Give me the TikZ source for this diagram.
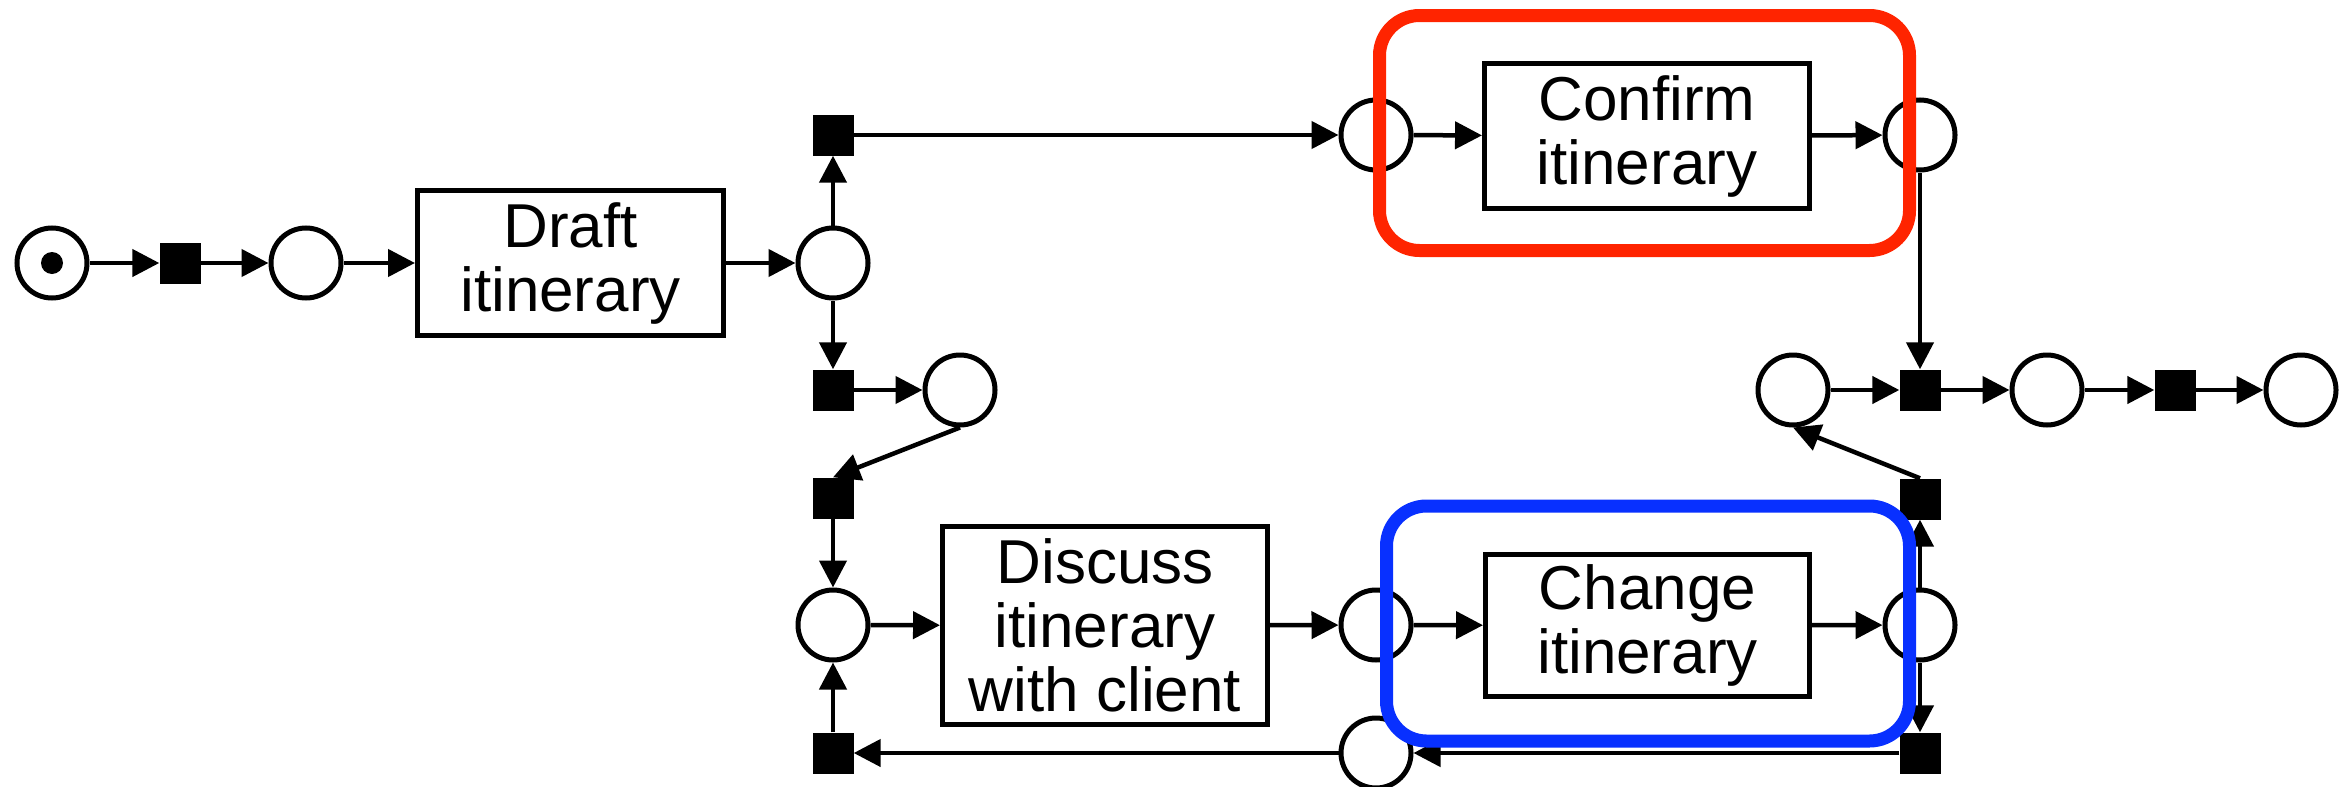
\documentclass[tikz,border=0pt]{standalone}
\usepackage{fontspec}
\setmainfont{Liberation Sans}
\usetikzlibrary{arrows.meta}
\definecolor{hlred}{RGB}{255,36,0}
\definecolor{hlblue}{RGB}{8,48,255}
\begin{document}
\begin{tikzpicture}[x=1pt,y=-1pt,
  place/.style={circle,draw,line width=5pt,fill=white,minimum size=70pt,inner sep=0pt,outer sep=2.5pt},
  trans/.style={rectangle,fill=black,draw=none,minimum size=41pt,inner sep=0pt},
  tokendot/.style={circle,fill=black,draw=none,minimum size=22pt,inner sep=0pt},
  activity/.style={rectangle,draw,line width=5pt,fill=white,inner sep=0pt,outer sep=2.5pt,align=center,
    font=\fontsize{62}{64}\selectfont},
  arc/.style={line width=4.5pt,-{Triangle[length=27pt,width=27pt]}},
  hlbox/.style={rectangle,rounded corners=40pt,line width=13pt,fill=none,inner sep=0pt}]
\useasboundingbox (0,0) rectangle (2345,787);
% top-left chain
\node[place] (p0) at (52,263) {};
\node[tokendot] (tok) at (52,263) {};
\node[trans] (t0) at (180,263) {};
\node[place] (p1) at (306,263) {};
\node[activity,minimum width=306pt,minimum height=145pt] (draft) at (570.5,263) {\raisebox{-3pt}{\parbox{300pt}{\centering Draft\\itinerary}}};
\node[place] (p2) at (833,263) {};
\node[trans] (t1) at (833,135) {};
\node[trans] (t2) at (833,390) {};
\node[place] (p3) at (960,390) {};
\node[trans] (t3) at (833,498) {};
\node[place] (p4) at (833,625) {};
\node[activity,minimum width=325pt,minimum height=198pt] (discuss) at (1105,625.5) {\raisebox{-3pt}{\parbox{320pt}{\centering Discuss\\itinerary\\with client}}};
\node[place] (p5) at (1376,625) {};
\node[activity,minimum width=324pt,minimum height=142pt] (change) at (1647.5,625.5) {\raisebox{-3pt}{\parbox{320pt}{\centering Change\\itinerary}}};
\node[place] (p7) at (1920,625) {};
\node[trans] (t5) at (1920,499) {};
\node[trans] (t6) at (1920,753) {};
\node[place] (p6) at (1376,753) {};
\node[trans] (t4) at (833,753) {};
\node[place] (p8) at (1376,135) {};
\node[activity,minimum width=325pt,minimum height=145pt] (confirm) at (1647,136) {\raisebox{-3pt}{\parbox{320pt}{\centering Confirm\\itinerary}}};
\node[place] (p9) at (1920,135) {};
\node[trans] (t7) at (1920,390) {};
\node[place] (p10) at (1793,390) {};
\node[place] (p11) at (2047,390) {};
\node[trans] (t8) at (2175,390) {};
\node[place] (p12) at (2301,390) {};
% connectors
\draw[arc] (p0) -- (t0);
\draw[arc] (t0) -- (p1);
\draw[arc] (p1) -- (draft);
\draw[arc] (draft) -- (p2);
\draw[arc] (p2) -- (t1);
\draw[arc] (p2) -- (t2);
\draw[arc] (t2) -- (p3);
\draw[arc] (p3.south) -- (t3.north);
\draw[arc] (t3) -- (p4);
\draw[arc] (p4) -- (discuss);
\draw[arc] (discuss) -- (p5);
\draw[arc] (p5) -- (change);
\draw[arc] (change) -- (p7);
\draw[arc] (p7) -- (t5);
\draw[arc] (p7) -- (t6);
\draw[arc] (t6) -- (p6);
\draw[arc] (p6) -- (t4);
\draw[arc] (t4) -- (p4);
\draw[arc] (t5.north) -- (p10.south);
\draw[arc] (t1) -- (p8);
\draw[arc] (p8) -- (confirm);
\draw[arc] (confirm) -- (p9);
\draw[arc] (p9) -- (t7);
\draw[arc] (p10) -- (t7);
\draw[arc] (t7) -- (p11);
\draw[arc] (p11) -- (t8);
\draw[arc] (t8) -- (p12);
% highlight boxes
\node[hlbox,draw=hlred,minimum width=530pt,minimum height=235pt] (redbox) at (1644.5,133) {};
\node[hlbox,draw=hlblue,minimum width=523pt,minimum height=235pt] (bluebox) at (1648,623.5) {};
\end{tikzpicture}
\end{document}
